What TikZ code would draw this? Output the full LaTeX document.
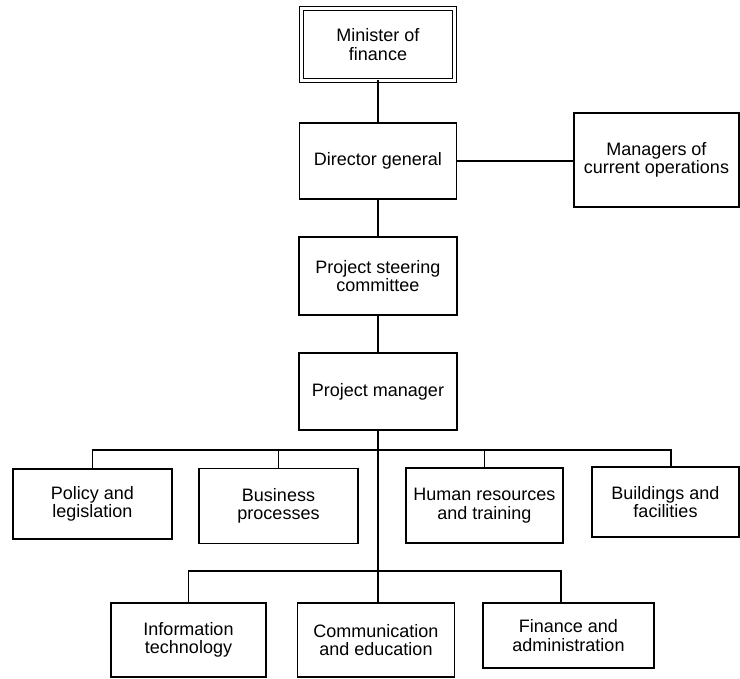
\documentclass[tikz,border=0pt]{standalone}
\usepackage{fontspec}
\setmainfont{Liberation Sans}
\begin{document}
\begin{tikzpicture}[x=1pt,y=-1pt,
  orgbox/.style={draw=black, line width=1.1pt, inner sep=0pt, outer sep=0pt, align=center,
    font=\fontsize{18}{18.5}\selectfont, text=black},
  topbox/.style={orgbox, double, line width=1.1pt, double distance=2.2pt},
  link/.style={draw=black, line width=1.1pt}]
\useasboundingbox (0,0) rectangle (740,679);
\node[topbox, minimum width=153, minimum height=72] (min) at (378,44.5) {Minister of\\finance};
\node[orgbox, minimum width=157, minimum height=76] (dir) at (378,161) {Director general};
\node[orgbox, minimum width=165, minimum height=94] (mgr) at (656.5,160) {Managers of\\current operations};
\node[orgbox, minimum width=158, minimum height=78] (psc) at (378,276) {Project steering\\committee};
\node[orgbox, minimum width=158, minimum height=77] (pm) at (378,391.5) {Project manager};
\node[orgbox, minimum width=159, minimum height=70] (pol) at (92.5,504) {Policy and\\legislation};
\node[orgbox, minimum width=159, minimum height=75] (bus) at (278.5,506) {Business\\processes};
\node[orgbox, minimum width=157, minimum height=75] (hr) at (484.5,505.5) {Human resources\\and training};
\node[orgbox, minimum width=147, minimum height=70] (bld) at (665.5,502) {Buildings and\\facilities};
\node[orgbox, minimum width=155, minimum height=74] (it) at (188.5,640) {Information\\technology};
\node[orgbox, minimum width=157, minimum height=74] (com) at (376,640) {Communication\\and education};
\node[orgbox, minimum width=171, minimum height=65] (fin) at (568.5,635.5) {Finance and\\administration};
\coordinate (bus1) at (378,450);
\coordinate (bus2) at (378,571);
\draw[link] (min.south) -- (dir.north);
\draw[link] (dir.south) -- (psc.north);
\draw[link] (psc.south) -- (pm.north);
\draw[link] (dir.east) -- (dir.east -| mgr.west);
\draw[link] (pm.south) -- (bus1) -- (bus2) -- (bus2 |- com.north);
\draw[link] (pol.north) |- (bus1) -| ([xshift=5.5pt]bld.north);
\draw[link] (bus.north) -- (bus.north |- bus1);
\draw[link] (hr.north) -- (hr.north |- bus1);
\draw[link] (it.north) |- (bus2) -| ([xshift=-7.5pt]fin.north);
\end{tikzpicture}
\end{document}
